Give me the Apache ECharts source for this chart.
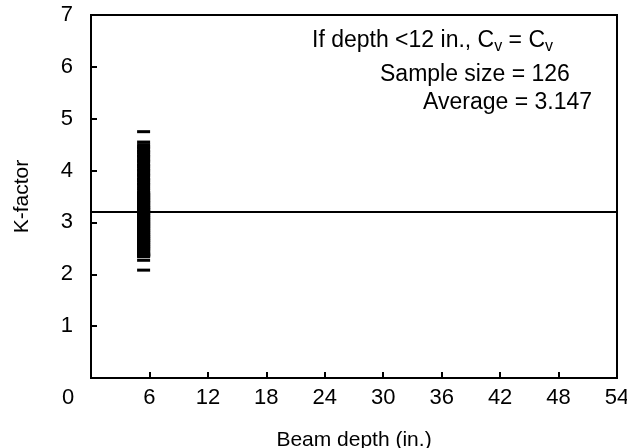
<!DOCTYPE html>
<html>
<head>
<meta charset="utf-8">
<script src="https://cdn.jsdelivr.net/npm/echarts@6/dist/echarts.min.js"></script>
<style>
  html, body { margin: 0; padding: 0; background: #fff; }
  #chart { width: 627px; height: 448px; }
</style>
</head>
<body>
<div id="chart"></div>
<script>
var kFactor = [
  4.75, 4.55, 4.50,
  4.46, 4.44, 4.40, 4.37, 4.35, 4.31, 4.28, 4.26, 4.22, 4.19,
  4.17, 4.13, 4.10, 4.08, 4.04, 4.01, 3.99, 3.95, 3.92, 3.90,
  3.86, 3.83, 3.81, 3.77, 3.74, 3.72, 3.68, 3.65, 3.62,
  3.58, 3.57, 3.55, 3.54, 3.52, 3.51, 3.49, 3.48, 3.46, 3.45,
  3.43, 3.42, 3.40, 3.39, 3.38, 3.36, 3.35, 3.33, 3.32, 3.30,
  3.29, 3.28, 3.26, 3.25, 3.24, 3.22, 3.21, 3.20, 3.18, 3.17,
  3.16, 3.14, 3.13, 3.12, 3.10, 3.09, 3.08, 3.06, 3.05, 3.04,
  3.02, 3.01, 3.00, 2.98, 2.97, 2.96, 2.94, 2.93, 2.92, 2.90,
  2.89, 2.88, 2.86, 2.85, 2.84, 2.82, 2.81, 2.80, 2.78, 2.77,
  2.76, 2.74, 2.73, 2.72, 2.70, 2.69, 2.68, 2.66, 2.65, 2.64,
  2.62, 2.61, 2.60, 2.58, 2.57, 2.56, 2.54, 2.53, 2.52, 2.50,
  2.49, 2.48, 2.46, 2.44, 2.42, 2.40,
  2.39, 2.38, 2.37, 2.36, 2.35, 2.34,
  2.27, 2.08
];
var beamDepth = 5.4; // every sample sits at the same depth
var averageLine = 3.2;
var xTicks = [0, 54, 6];   // min, max, interval
var yTicks = [0, 7, 1];

var font = 'Liberation Sans, Arial, sans-serif';

var points = kFactor.map(function (k) {
  return [beamDepth, k];
});

var chart = echarts.init(document.getElementById('chart'), null, { renderer: 'canvas' });

var option = {
  animation: false,
  backgroundColor: '#fff',
  grid: {
    left: 91, right: 10, top: 15, bottom: 70,
    outerBoundsMode: 'none',
    show: true, borderColor: '#000', borderWidth: 2
  },
  xAxis: {
    type: 'value',
    min: xTicks[0], max: xTicks[1], interval: xTicks[2],
    name: 'Beam depth (in.)',
    nameLocation: 'middle',
    nameGap: 52,
    nameTextStyle: { fontFamily: font, fontSize: 21, color: '#000' },
    axisLine: { lineStyle: { color: '#000', width: 2 } },
    axisTick: { inside: true, length: 6, lineStyle: { color: '#000', width: 2 } },
    axisLabel: {
      fontFamily: font, fontSize: 22, color: '#000', margin: 9,
      formatter: function (v) { return v === 0 ? '{z|0}' : String(v); },
      rich: { z: { fontFamily: font, fontSize: 22, color: '#000', padding: [0, 46, 0, 0] } }
    },
    splitLine: { show: false }
  },
  yAxis: {
    type: 'value',
    min: yTicks[0], max: yTicks[1], interval: yTicks[2],
    name: 'K-factor',
    nameLocation: 'middle',
    nameGap: 58,
    nameTextStyle: { fontFamily: font, fontSize: 21, color: '#000' },
    axisLine: { show: true, lineStyle: { color: '#000', width: 2 } },
    axisTick: { show: true, inside: true, length: 6, lineStyle: { color: '#000', width: 2 } },
    axisLabel: {
      fontFamily: font, fontSize: 22, color: '#000', margin: 18,
      formatter: function (v) { return v === 0 ? '' : String(v); }
    },
    splitLine: { show: false }
  },
  series: [{
    type: 'scatter',
    data: points,
    symbol: 'rect',
    symbolSize: [13, 3],
    itemStyle: { color: '#000', opacity: 1 },
    markLine: {
      silent: true,
      symbol: 'none',
      label: { show: false },
      lineStyle: { color: '#000', width: 2, type: 'solid', opacity: 1 },
      data: [{ yAxis: averageLine }]
    }
  }],
  graphic: [
    {
      type: 'text', left: 312, top: 29,
      style: {
        text: '{a|If depth <12 in., C}{s|v}{a| = C}{s|v}',
        rich: {
          a: { fontFamily: font, fontSize: 23, fill: '#000' },
          s: { fontFamily: font, fontSize: 16, fill: '#000', padding: [13, 0, 0, 0] }
        }
      }
    },
    {
      type: 'text', left: 380, top: 63,
      style: { text: 'Sample size = 126', fontFamily: font, fontSize: 23, fill: '#000' }
    },
    {
      type: 'text', left: 423, top: 91,
      style: { text: 'Average = 3.147', fontFamily: font, fontSize: 23, fill: '#000' }
    }
  ]
};

chart.setOption(option);
</script>
</body>
</html>
